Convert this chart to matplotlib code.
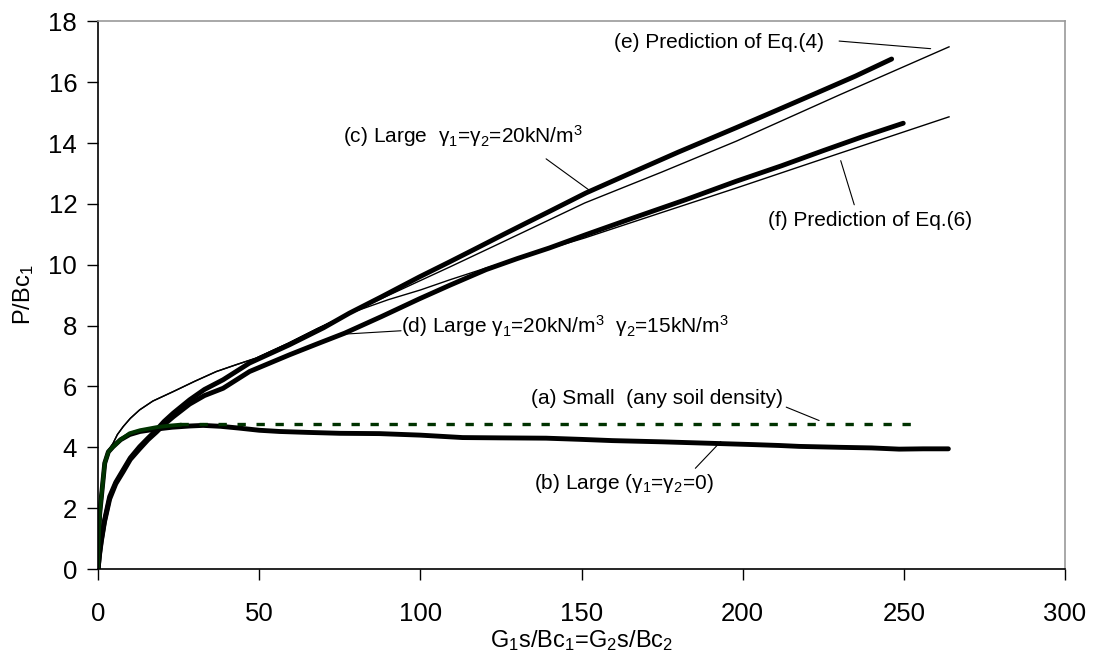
import matplotlib.pyplot as plt

plt.rcParams['font.family'] = 'Liberation Sans'
plt.rcParams['mathtext.fontset'] = 'custom'
plt.rcParams['mathtext.rm'] = 'Liberation Sans'
plt.rcParams['mathtext.it'] = 'Liberation Sans:italic'
plt.rcParams['mathtext.default'] = 'regular'

# (a) small test: rising part, then flat plateau
small_x = [0, 0.2, 0.5, 1.04, 2.08, 3.2, 4.65, 7, 9.8, 13, 18.1, 22, 25.3]
small_y = [0, 1.0, 1.8, 2.38, 3.48, 3.85, 4.02, 4.25, 4.46, 4.56, 4.66, 4.71, 4.74]
small_plateau_x = [25.3, 254.7]
small_plateau_y = [4.76, 4.76]

# (b) large, gamma1 = gamma2 = 0
b_x = [0, 0.2, 0.5, 1.04, 2.08, 3.2, 4.65, 7, 9.8, 13, 18.1, 23, 28.4, 32.6, 38, 43.9,
       50, 56.3, 65, 75, 87.3, 100, 113.1, 125, 139, 150, 159.6, 175, 190.6, 203,
       211.3, 217.5, 230, 240, 248.5, 256, 263.8]
b_y = [0, 1.0, 1.8, 2.38, 3.48, 3.85, 4.02, 4.25, 4.42, 4.52, 4.6, 4.66, 4.7, 4.72, 4.69, 4.63,
       4.56, 4.52, 4.49, 4.46, 4.45, 4.4, 4.32, 4.31, 4.3, 4.26, 4.22, 4.18, 4.13, 4.09,
       4.06, 4.03, 4.0, 3.98, 3.94, 3.95, 3.95]

# (c) large, gamma1 = gamma2 = 20 kN/m3
c_x = [0, 0.5, 1, 2, 3.6, 5.5, 7.8, 10, 12.9, 15.5, 18.1, 20.5, 23.3, 28.4, 33, 38.8, 47,
       59.4, 70, 78, 88, 99.7, 109, 117, 125.5, 133, 140, 151.4, 165, 180, 197.9, 210,
       222, 235, 246.2]
c_y = [0, 0.55, 0.95, 1.6, 2.38, 2.85, 3.26, 3.65, 4.02, 4.3, 4.57, 4.85, 5.12, 5.56, 5.9,
       6.22, 6.77, 7.37, 7.93, 8.41, 8.95, 9.6, 10.09, 10.52, 10.98, 11.38, 11.75, 12.36,
       13.0, 13.7, 14.5, 15.05, 15.6, 16.2, 16.76]

# (d) large, gamma1 = 20, gamma2 = 15 kN/m3
d_x = [0, 0.5, 1, 2, 3.6, 5.5, 7.8, 10, 12.9, 15.5, 18.1, 20.5, 23.3, 28.4, 33, 38.8, 47,
       59.4, 68, 76.5, 88, 99.7, 109, 120.4, 130, 140, 151.4, 165, 182.4, 197.9, 212,
       225, 237, 249.8]
d_y = [0, 0.5, 0.9, 1.55, 2.3, 2.8, 3.2, 3.6, 3.95, 4.25, 4.5, 4.75, 5.0, 5.42, 5.7, 5.94,
       6.49, 7.04, 7.4, 7.75, 8.3, 8.88, 9.32, 9.84, 10.2, 10.55, 10.99, 11.5, 12.14, 12.74,
       13.25, 13.75, 14.2, 14.65]

# (e) prediction of Eq.(4)
e_x = [0, 0.2, 0.5, 1, 2, 3.2, 4.65, 6, 7.8, 10, 12.9, 17, 23.3, 30, 36.7, 43, 49, 59, 68,
       78, 89, 100, 109.2, 125, 151, 175, 198, 230, 264]
e_y = [0, 1.0, 1.8, 2.4, 3.45, 3.9, 4.13, 4.42, 4.68, 4.95, 5.23, 5.52, 5.83, 6.17, 6.49,
       6.72, 6.93, 7.42, 7.9, 8.4, 8.94, 9.48, 9.93, 10.72, 12.03, 13.05, 14.06, 15.58, 17.16]

# (f) prediction of Eq.(6)
f_x = [0, 0.2, 0.5, 1, 2, 3.2, 4.65, 6, 7.8, 10, 12.9, 17, 23.3, 30, 36.7, 43, 49, 59, 68,
       78, 90, 100, 109, 120, 135, 151, 175, 198, 230, 264]
f_y = [0, 1.0, 1.8, 2.4, 3.45, 3.9, 4.13, 4.42, 4.68, 4.95, 5.23, 5.52, 5.83, 6.17, 6.49,
       6.72, 6.93, 7.42, 7.9, 8.4, 8.85, 9.17, 9.5, 9.88, 10.37, 10.88, 11.72, 12.52, 13.66,
       14.86]

green = '#003300'

fig = plt.figure(figsize=(10.98, 6.57), dpi=100)
ax = fig.add_axes([0.0893, 0.1339, 0.8807, 0.8337])

ax.plot(e_x, e_y, color='black', lw=1.0)
ax.plot(f_x, f_y, color='black', lw=1.0)
ax.plot(c_x, c_y, color='black', lw=3.5, solid_capstyle='round')
ax.plot(d_x, d_y, color='black', lw=3.5, solid_capstyle='round')
ax.plot(b_x, b_y, color='black', lw=3.5, solid_capstyle='round')
ax.plot(small_x, small_y, color=green, lw=2.8)
ax.plot(small_plateau_x, small_plateau_y, color=green, lw=2.4, dashes=(2.5, 3.2))

# labels with leader lines
fs = 15
leader = dict(arrowstyle='-', lw=0.8, shrinkA=0, shrinkB=0)

ax.text(160.2, 17.29, '(e) Prediction of Eq.(4)', fontsize=fs, va='center', ha='left')
ax.annotate('', xy=(258.3, 17.1), xytext=(229.9, 17.35), arrowprops=leader)

ax.text(75.9, 14.22, '(c) Large  γ$_1$=γ$_2$=20kN/m$^3$', fontsize=fs, va='center', ha='left')
ax.annotate('', xy=(152.9, 12.41), xytext=(139.0, 13.48), arrowprops=leader)

ax.text(207.7, 11.46, '(f) Prediction of Eq.(6)', fontsize=fs, va='center', ha='left')
ax.annotate('', xy=(230.4, 13.42), xytext=(234.6, 11.97), arrowprops=leader)

ax.text(94.0, 7.97, '(d) Large γ$_1$=20kN/m$^3$  γ$_2$=15kN/m$^3$', fontsize=fs,
        va='center', ha='left')
ax.annotate('', xy=(76.5, 7.72), xytext=(94.0, 7.83), arrowprops=leader)

ax.text(134.3, 5.61, '(a) Small  (any soil density)', fontsize=fs, va='center', ha='left')
ax.annotate('', xy=(223.7, 4.88), xytext=(213.5, 5.32), arrowprops=leader)

ax.text(135.4, 2.82, '(b) Large (γ$_1$=γ$_2$=0)', fontsize=fs, va='center', ha='left')
ax.annotate('', xy=(193.2, 4.19), xytext=(185.3, 3.31), arrowprops=leader)

ax.set_xlim(0, 300)
ax.set_ylim(0, 18)
ax.set_xticks(range(0, 301, 50))
ax.set_yticks(range(0, 19, 2))
ax.tick_params(direction='out', length=8, width=1, labelsize=18.5)
ax.tick_params(axis='x', pad=16)
ax.tick_params(axis='y', pad=7)

for side in ['left', 'bottom']:
    ax.spines[side].set_color('black')
    ax.spines[side].set_linewidth(1.2)
for side in ['top', 'right']:
    ax.spines[side].set_color('#999999')
    ax.spines[side].set_linewidth(1.2)

ax.set_xlabel('G$_1$s/Bc$_1$=G$_2$s/Bc$_2$', fontsize=17, labelpad=1)
ax.set_ylabel('P/Bc$_1$', fontsize=17, labelpad=9)

fig.savefig('out.png', dpi=100)
